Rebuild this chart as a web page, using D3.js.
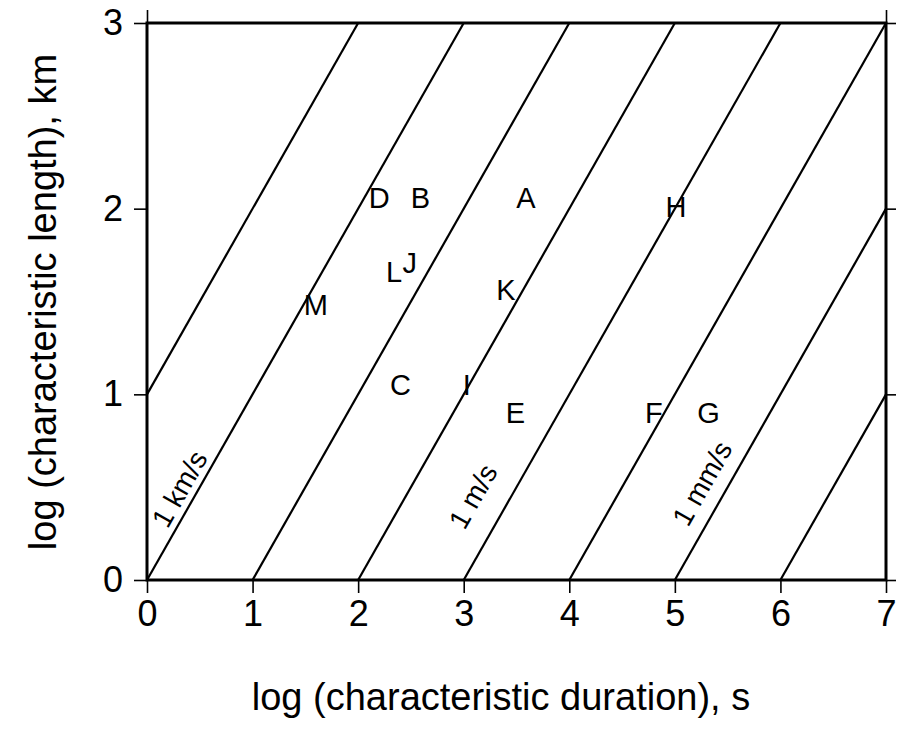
<!DOCTYPE html>
<html>
<head>
<meta charset="utf-8">
<script src="https://cdn.jsdelivr.net/npm/d3@7"></script>
<style>
  html, body { margin: 0; padding: 0; background: #fff; }
  svg { display: block; }
  text { font-family: "Liberation Sans", Arial, Helvetica, sans-serif; fill: #000; }
</style>
</head>
<body>
<svg id="chart" width="898" height="729"></svg>
<script>
// Axis ranges and ticks (log10 units)
const xTicks = [0, 1, 2, 3, 4, 5, 6, 7];
const yTicks = [0, 1, 2, 3];

// Constant-velocity lines: log L = log T + offset
const velocityOffsets = [1, 0, -1, -2, -3, -4, -5, -6];

// Velocity annotations placed along the lines
const speedLabels = ["1 km/s", "1 m/s", "1 mm/s"];
const speedLabelX = [0.31, 3.09, 5.26];
const speedLabelY = [0.49, 0.45, 0.52];

// Lettered events: log duration (s) and log length (km)
const eventNames = ["A", "B", "C", "D", "E", "F", "G", "H", "I", "J", "K", "L", "M"];
const eventLogT  = [3.59, 2.59, 2.40, 2.20, 3.49, 4.80, 5.32, 5.01, 3.03, 2.49, 3.40, 2.34, 1.60];
const eventLogL  = [2.06, 2.06, 1.05, 2.06, 0.90, 0.90, 0.90, 2.01, 1.05, 1.71, 1.56, 1.66, 1.48];

const svg = d3.select("#chart");
const margin = { left: 147, right: 12, top: 23, bottom: 149 };
const W = 898, H = 729;
const x = d3.scaleLinear().domain([0, 7]).range([margin.left, W - margin.right]);
const y = d3.scaleLinear().domain([0, 3]).range([H - margin.bottom, margin.top]);

// Constant-velocity lines clipped to the plot window
const lineG = svg.append("g");
velocityOffsets.forEach(c => {
  const x0 = Math.max(0, -c), x1 = Math.min(7, 3 - c);
  lineG.append("line")
    .attr("x1", x(x0)).attr("y1", y(x0 + c))
    .attr("x2", x(x1)).attr("y2", y(x1 + c))
    .attr("stroke", "#000").attr("stroke-width", 2.2);
});

// Velocity labels rotated to follow the line slope
const angle = Math.atan2(y(1) - y(0), x(1) - x(0)) * 180 / Math.PI;
speedLabels.forEach((t, i) => {
  const px = x(speedLabelX[i]), py = y(speedLabelY[i]);
  svg.append("text")
    .attr("transform", `translate(${px},${py}) rotate(${angle})`)
    .attr("text-anchor", "middle")
    .attr("dominant-baseline", "central")
    .attr("font-size", 28)
    .text(t);
});

// Event letters
svg.append("g").selectAll("text")
  .data(eventNames)
  .join("text")
  .attr("x", (d, i) => x(eventLogT[i]))
  .attr("y", (d, i) => y(eventLogL[i]))
  .attr("text-anchor", "middle")
  .attr("dominant-baseline", "central")
  .attr("font-size", 29)
  .text(d => d);

// Axes
const tickLen = 13;
const axBottom = svg.append("g")
  .attr("transform", `translate(0,${y(0)})`)
  .call(d3.axisBottom(x).tickValues(xTicks).tickFormat(d3.format("d")).tickSize(tickLen).tickPadding(7));
const axLeft = svg.append("g")
  .attr("transform", `translate(${x(0)},0)`)
  .call(d3.axisLeft(y).tickValues(yTicks).tickFormat(d3.format("d")).tickSize(tickLen).tickPadding(11));
const axRight = svg.append("g")
  .attr("transform", `translate(${x(7)},0)`)
  .call(d3.axisRight(y).tickValues(yTicks).tickFormat("").tickSize(10));
const axTop = svg.append("g")
  .attr("transform", `translate(0,${y(3)})`)
  .call(d3.axisTop(x).tickValues([0, 7]).tickFormat("").tickSize(tickLen));

[axBottom, axLeft, axRight, axTop].forEach(g => {
  g.select(".domain").remove();
  g.selectAll(".tick line").attr("stroke", "#000").attr("stroke-width", 1.6);
  g.selectAll(".tick text").attr("font-size", 36).attr("font-family", "Liberation Sans, Arial, sans-serif").attr("fill", "#000");
});

// Plot frame
svg.append("rect")
  .attr("x", x(0)).attr("y", y(3))
  .attr("width", x(7) - x(0)).attr("height", y(0) - y(3))
  .attr("fill", "none").attr("stroke", "#000").attr("stroke-width", 3);

// Axis titles
svg.append("text")
  .attr("x", 501).attr("y", 710)
  .attr("text-anchor", "middle")
  .attr("font-size", 38)
  .text("log (characteristic duration), s");

svg.append("text")
  .attr("transform", `translate(56,302) rotate(-90)`)
  .attr("text-anchor", "middle")
  .attr("font-size", 38)
  .text("log (characteristic length), km");
</script>
</body>
</html>
